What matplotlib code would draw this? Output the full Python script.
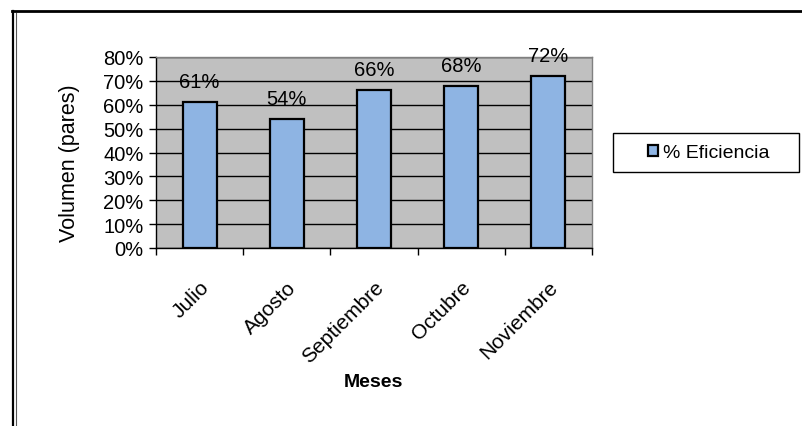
import matplotlib
matplotlib.use("Agg")
import matplotlib.pyplot as plt
from matplotlib.lines import Line2D
from matplotlib.patches import Rectangle
from matplotlib.ticker import FuncFormatter, MultipleLocator
import matplotlib.transforms as mtransforms

meses = ["Julio", "Agosto", "Septiembre", "Octubre", "Noviembre"]
eficiencia = [0.61, 0.54, 0.66, 0.68, 0.72]
serie = "% Eficiencia"

plt.rcParams['font.family'] = ['Liberation Sans', 'DejaVu Sans']

fig = plt.figure(figsize=(8.02, 4.27), dpi=100)
W, H = 802, 427

def fx(px): return px / W
def fy(py): return 1 - py / H

# outer chart frame (double line, clipped at right/bottom)
fig.add_artist(Line2D([fx(12.5), fx(12.5)], [fy(11.5), 0], color='black', lw=1.6))
fig.add_artist(Line2D([fx(15.5), fx(15.5)], [fy(14), 0], color='#555555', lw=0.8))
fig.add_artist(Line2D([fx(11.5), 1], [fy(11.5), fy(11.5)], color='black', lw=2.0))

ax = fig.add_axes([156 / W, 1 - 249 / H, (592 - 156) / W, (249 - 58) / H])
ax.set_facecolor('#C0C0C0')
x = list(range(len(meses)))
bars = ax.bar(x, eficiencia, width=0.39, color='#8EB4E3', edgecolor='black',
              linewidth=1.6, label=serie, zorder=3)
ax.set_xlim(-0.5, len(meses) - 0.5)
ax.set_ylim(0, 0.8)
ax.yaxis.set_major_locator(MultipleLocator(0.1))
ax.yaxis.set_major_formatter(FuncFormatter(lambda v, p: f"{v*100:.0f}%"))
ax.grid(axis='y', color='black', lw=1.0, zorder=1)
ax.set_axisbelow(True)

for s in ['top', 'right']:
    ax.spines[s].set_color('#808080')
    ax.spines[s].set_linewidth(1.0)
for s in ['left', 'bottom']:
    ax.spines[s].set_color('black')
    ax.spines[s].set_linewidth(1.0)

ax.set_xticks([i - 0.5 for i in range(len(meses) + 1)], minor=False)
ax.set_xticklabels([])
ax.set_xticks(x, minor=True)
ax.set_xticklabels(meses, minor=True, rotation=45, ha='right',
                   rotation_mode='anchor', fontsize=15)
shift = mtransforms.ScaledTranslation(-4 / 100, 0, fig.dpi_scale_trans)
for lbl in ax.get_xticklabels(minor=True):
    lbl.set_transform(lbl.get_transform() + shift)
ax.tick_params(axis='x', which='minor', length=0, pad=21)
ax.tick_params(axis='x', which='major', length=5, direction='out', width=1)
ax.tick_params(axis='y', length=5, direction='out', width=1, labelsize=14.5, pad=4)

for i, v in enumerate(eficiencia):
    ax.annotate(f"{v*100:.0f}%", (i, v), xytext=(0, 8), textcoords='offset points',
                ha='center', va='bottom', fontsize=14.5)

fig.text(fx(69), fy(163), "Volumen (pares)", fontsize=15.5, rotation=90,
         ha='center', va='center')
fig.text(fx(373), fy(383), "Meses", fontsize=14, fontweight='bold',
         ha='center', va='center')

# legend frame and content
fig.add_artist(Rectangle((fx(613), fy(173)), (799 - 613) / W, (173 - 134) / H,
                         transform=fig.transFigure, fill=False,
                         edgecolor='black', lw=1.0))
leg = fig.legend(handles=[bars], labels=[serie], loc='center left',
                 bbox_to_anchor=(fx(648), fy(154)), fontsize=14,
                 frameon=False, handlelength=0.5, handleheight=0.5,
                 handletextpad=0.25, borderpad=0, borderaxespad=0)

fig.savefig("out.png", dpi=100)
